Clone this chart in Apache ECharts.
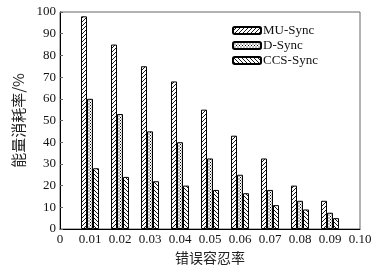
<!DOCTYPE html>
<html>
<head>
<meta charset="utf-8">
<script src="https://cdn.jsdelivr.net/npm/echarts@6/dist/echarts.min.js"></script>
<style>
  html, body { margin: 0; padding: 0; background: #fff; }
  #chart { width: 390px; height: 277px; }
</style>
</head>
<body>
<div id="chart"></div>
<script>
// 错误容忍率 (x) 和 三种方法的能量消耗率
const rates = [0.01, 0.02, 0.03, 0.04, 0.05, 0.06, 0.07, 0.08, 0.09]
const muSync = [98, 85, 75, 68, 55, 43, 32.5, 20, 13]
const dSync = [60, 53, 45, 40, 32.5, 25, 18, 13, 7.5]
const ccsSync = [28, 24, 22, 20, 18, 16.5, 11, 9, 5]
const seriesNames = ['MU-Sync', 'D-Sync', 'CCS-Sync']

// 填充图案
function hatch(kind) {
  const c = document.createElement('canvas')
  const s = kind === 'dot' ? 3 : 4
  c.width = s
  c.height = s
  const ctx = c.getContext('2d')
  ctx.fillStyle = '#fff'
  ctx.fillRect(0, 0, s, s)
  ctx.strokeStyle = '#000'
  ctx.fillStyle = '#000'
  ctx.lineWidth = 0.9
  if (kind === 'fwd') {
    ctx.beginPath()
    ctx.moveTo(0, s); ctx.lineTo(s, 0)
    ctx.moveTo(-1, 1); ctx.lineTo(1, -1)
    ctx.moveTo(s - 1, s + 1); ctx.lineTo(s + 1, s - 1)
    ctx.stroke()
  } else if (kind === 'back') {
    ctx.beginPath()
    ctx.moveTo(0, 0); ctx.lineTo(s, s)
    ctx.moveTo(s - 1, -1); ctx.lineTo(s + 1, 1)
    ctx.moveTo(-1, s - 1); ctx.lineTo(1, s + 1)
    ctx.stroke()
  } else {
    ctx.fillRect(0, 0, 1, 1)
    ctx.fillRect(1.5, 1.5, 1, 1)
  }
  return { image: c, repeat: 'repeat' }
}

const patterns = [hatch('fwd'), hatch('dot'), hatch('back')]
const allData = [muSync, dSync, ccsSync]

const chart = echarts.init(document.getElementById('chart'))
const serif = '"Liberation Serif", "DejaVu Serif", serif'
const cjk = '"Noto Sans CJK SC", sans-serif'

chart.setOption({
  animation: false,
  grid: {
    left: 60, right: 30, top: 12, bottom: 48,
    show: true, borderColor: '#666', borderWidth: 1, backgroundColor: 'transparent'
  },
  legend: {
    data: seriesNames,
    orient: 'vertical',
    left: 227,
    top: 19,
    itemWidth: 28,
    itemHeight: 7,
    itemGap: 2,
    textStyle: { fontFamily: serif, fontSize: 13, color: '#111', padding: [0, 0, 0, -3] }
  },
  xAxis: {
    type: 'value',
    min: 0,
    max: 0.1,
    interval: 0.01,
    name: '错误容忍率',
    nameLocation: 'middle',
    nameGap: 22,
    nameTextStyle: { fontFamily: cjk, fontSize: 14, color: '#222' },
    axisLine: { lineStyle: { color: '#000', width: 1 } },
    axisTick: { show: false },
    splitLine: { show: false },
    axisLabel: {
      fontFamily: serif, fontSize: 13, color: '#111', margin: 4,
      formatter: v => (v === 0 ? '0' : v.toFixed(2))
    }
  },
  yAxis: {
    type: 'value',
    min: 0,
    max: 100,
    interval: 10,
    name: '能量消耗率/%',
    nameLocation: 'middle',
    nameGap: 30,
    nameTextStyle: { fontFamily: cjk, fontSize: 15, color: '#222' },
    axisLine: { show: true, lineStyle: { color: '#000', width: 1 } },
    axisTick: { show: true, inside: true, length: 3, lineStyle: { color: '#666' } },
    splitLine: { show: false },
    axisLabel: { fontFamily: serif, fontSize: 13, color: '#111', margin: 4 }
  },
  series: seriesNames.map((name, i) => ({
    name,
    type: 'bar',
    barWidth: 6,
    barGap: '0%',
    data: rates.map((r, j) => [r, allData[i][j]]),
    itemStyle: { color: patterns[i], borderColor: '#000', borderWidth: 1 }
  }))
})
</script>
</body>
</html>
